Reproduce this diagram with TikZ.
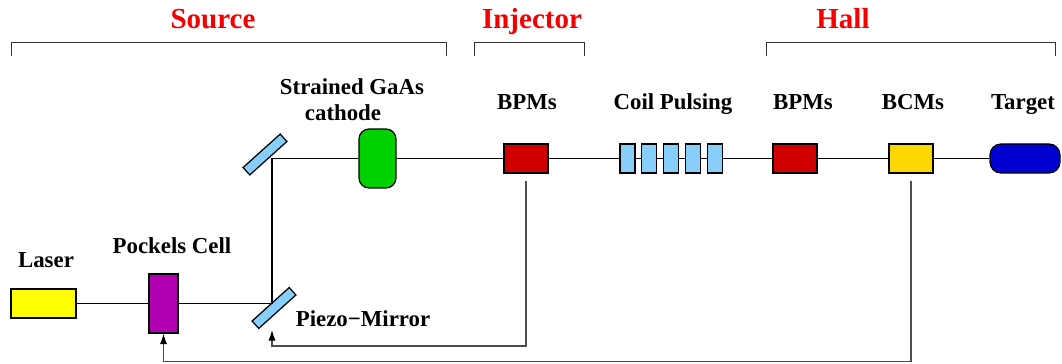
\documentclass[tikz,border=0pt]{standalone}
\usepackage{fontspec}
\setmainfont{Liberation Serif}
\usetikzlibrary{arrows.meta}

\definecolor{laseryellow}{RGB}{255,255,0}
\definecolor{pockelspurple}{RGB}{176,0,176}
\definecolor{mirrorblue}{RGB}{135,206,250}
\definecolor{cathodegreen}{RGB}{0,208,0}
\definecolor{bpmred}{RGB}{208,0,0}
\definecolor{bcmgold}{RGB}{255,215,0}
\definecolor{targetblue}{RGB}{0,0,208}
\definecolor{regionred}{RGB}{245,0,0}

\tikzset{
  box/.style={draw, line width=0.7pt, inner sep=0pt, minimum width=0.88cm, minimum height=0.58cm},
  mirror/.style={draw, line width=0.7pt, fill=mirrorblue, inner sep=0pt, minimum width=1.0cm, minimum height=0.2cm, rotate=42},
  coil/.style={box, fill=mirrorblue, minimum width=0.3cm},
  beam/.style={line width=0.6pt},
  fb/.style={line width=0.6pt, draw=black!70, -{Latex[length=6pt,width=4pt,black]}},
  bracket/.style={line width=0.5pt, draw=black!80},
  lbl/.style={font=\bfseries\fontsize{13}{15}\selectfont, anchor=base, inner sep=0pt},
  region/.style={font=\bfseries\fontsize{16.5}{19}\selectfont, text=regionred, anchor=base, inner sep=0pt}
}

\begin{document}
\begin{tikzpicture}[x=0.02cm, y=-0.02cm]
        \useasboundingbox (0,0) rectangle (1062,364);

        % Regions
        \node[region] (source) at (213,29) {Source};
        \node[region] (injector) at (532,29) {Injector};
        \node[region] (hall) at (843,29) {Hall};
        \draw[bracket] (11,56) |- (446,42) -- (446,56);
        \draw[bracket] (474,56) |- (584,42) -- (584,56);
        \draw[bracket] (766,56) |- (1055,42) -- (1055,56);

        % Nodes
        \node[box, fill=laseryellow, minimum width=1.3cm] (laser) at (43.5,303.5) {};
        \node[box, fill=pockelspurple, minimum width=0.58cm, minimum height=1.18cm] (pockels) at (163.5,303.5) {};
        \node[mirror] (pzmirror) at (274,308) {};
        \node[mirror] (topmirror) at (265,154.5) {};
        \coordinate (lowturn) at (272,303.5);
        \coordinate (upturn) at (272,158.5);
        \coordinate (pzin) at (272,330);
        \node[box, rounded corners=0.2cm, fill=cathodegreen, minimum width=0.74cm, minimum height=1.18cm] (cathode) at (377.5,158.5) {};
        \node[box, fill=bpmred] (bpma) at (526,158.5) {};
        \foreach \i/\x in {1/627.5, 2/649, 3/671, 4/693, 5/715}
            \node[coil] (coil\i) at (\x,158.5) {};
        \node[box, fill=bpmred] (bpmb) at (795,158.5) {};
        \node[box, fill=bcmgold] (bcm) at (911,158.5) {};
        \node[box, rounded corners=0.22cm, fill=targetblue, minimum width=1.4cm] (target) at (1025,158.5) {};

        % Labels
        \node[lbl] (laserlbl) at (46,268) {Laser};
        \node[lbl] (pockelslbl) at (172,254) {Pockels Cell};
        \node[lbl] (pzlbl) at (363,327) {Piezo−Mirror};
        \node[lbl] (cathodelbl) at (352,95) {Strained GaAs};
        \node[lbl] (cathodelbl2) at (343,121) {cathode};
        \node[lbl] (bpmalbl) at (527,110) {BPMs};
        \node[lbl] (coillbl) at (673,110) {Coil Pulsing};
        \node[lbl] (bpmblbl) at (803,110) {BPMs};
        \node[lbl] (bcmlbl) at (913,110) {BCMs};
        \node[lbl] (targetlbl) at (1023,110) {Target};

        % Edges
        \draw[beam] (laser) -- (pockels);
        \draw[beam] (pockels) -- (lowturn) -- (upturn) -- (cathode);
        \draw[beam] (cathode) -- (bpma) -- (coil1);
        \draw[beam] (coil1) -- (coil2) -- (coil3) -- (coil4) -- (coil5) -- (bpmb) -- (bcm) -- (target);

        % Feedback
        \draw[fb] ([yshift=-0.14cm]bpma.south) |- ([yshift=-0.32cm]pzin) -- (pzin);
        \draw[fb] ([yshift=-0.14cm]bcm.south) |- ([yshift=-0.56cm]pockels.south) -- (pockels.south);
    \end{tikzpicture}
\end{document}
